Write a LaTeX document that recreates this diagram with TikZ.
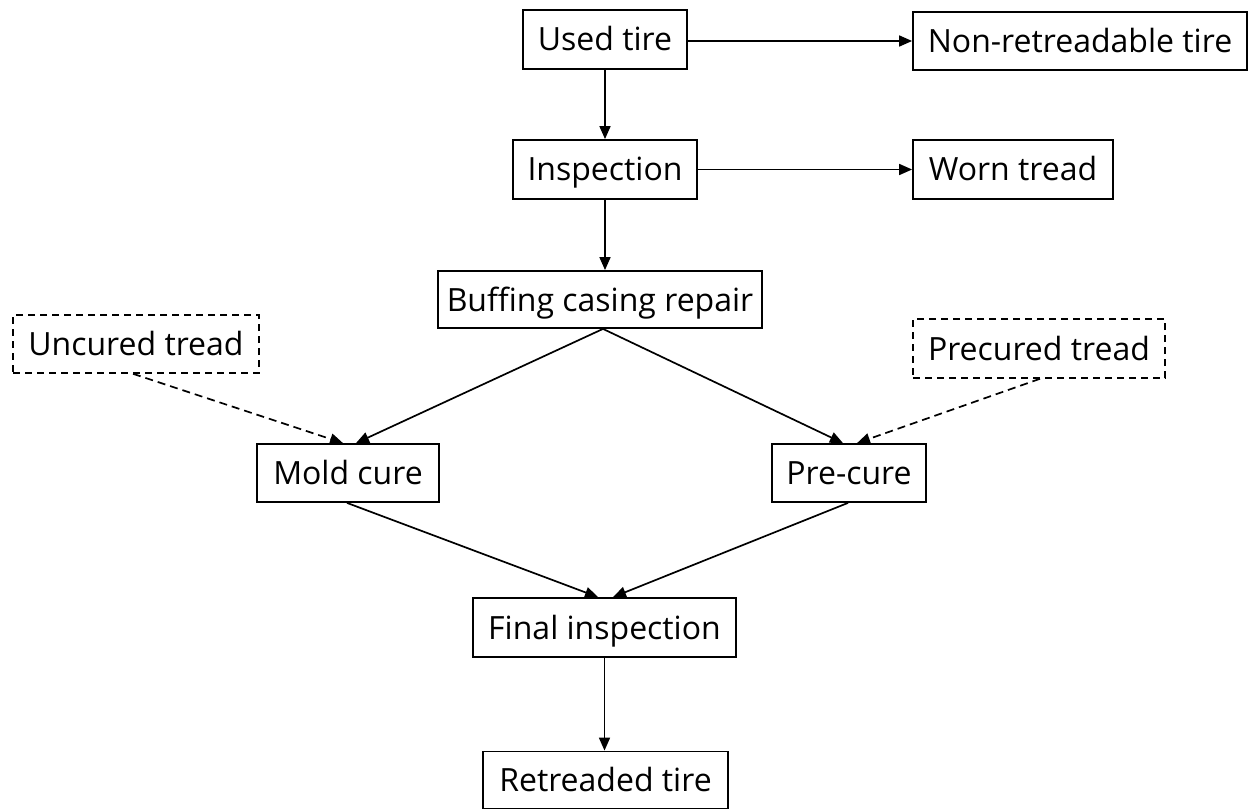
\documentclass[tikz,border=0pt]{standalone}
\usepackage{fontspec}
\setmainfont{Open Sans}
\usetikzlibrary{arrows.meta,calc}
\begin{document}
\begin{tikzpicture}[x=1pt,y=-1pt,
  box/.style={draw,line width=1.8pt,minimum height=59pt,inner sep=0pt,text height=26pt,text depth=3pt,font=\fontsize{32}{36}\selectfont},
  dbox/.style={box,line width=1.6pt,dash pattern=on 7pt off 5pt},
  arr/.style={line width=1.7pt,-{Triangle[length=13pt,width=11pt]}},
  darr/.style={arr,dash pattern=on 8pt off 5pt}]
\useasboundingbox (0,0) rectangle (1249,810);
\node[box,minimum width=164pt] (used) at (605,39.5) {Used tire};
\node[box,minimum width=334pt,minimum height=58pt] (non) at (1080,41) {Non-retreadable tire};
\node[box,minimum width=184pt] (insp) at (605,169.5) {Inspection};
\node[box,minimum width=200pt] (worn) at (1013,169.5) {Worn tread};
\node[box,minimum width=324pt,minimum height=57pt] (buff) at (600,299.5) {Buffing casing repair};
\node[dbox,minimum width=246pt,minimum height=58pt] (unc) at (136,344) {Uncured tread};
\node[dbox,minimum width=252pt] (pre) at (1039,348.5) {Precured tread};
\node[box,minimum width=182pt,minimum height=58pt] (mold) at (348,473) {Mold cure};
\node[box,minimum width=154pt,minimum height=58pt] (pcure) at (849,473) {Pre-cure};
\node[box,minimum width=263pt] (final) at (604.5,627.5) {Final inspection};
\node[box,minimum width=245pt,minimum height=57pt] (ret) at (605.5,780) {Retreaded tire};
\draw[arr] (used.east |- non.west) -- (non.west);
\draw[arr] (used) -- (insp);
\draw[arr] (insp) -- (worn);
\draw[arr] (insp.south) -- (insp.south |- buff.north);
\draw[arr] ($(buff.south)+(3,0)$) -- ($(mold.north)+(8,0)$);
\draw[arr] ($(buff.south)+(3,0)$) -- ($(pcure.north)+(-6,0)$);
\draw[darr] ($(unc.south)+(-3,0)$) -- ($(mold.north)+(-5,0)$);
\draw[darr] ($(pre.south)+(1,0)$) -- ($(pcure.north)+(8,0)$);
\draw[arr] ($(mold.south)+(-1,0)$) -- ($(final.north)+(-6.5,0)$);
\draw[arr] ($(pcure.south)+(-1,0)$) -- ($(final.north)+(8.5,0)$);
\draw[arr] (final.south) -- (final.south |- ret.north);
\end{tikzpicture}
\end{document}
